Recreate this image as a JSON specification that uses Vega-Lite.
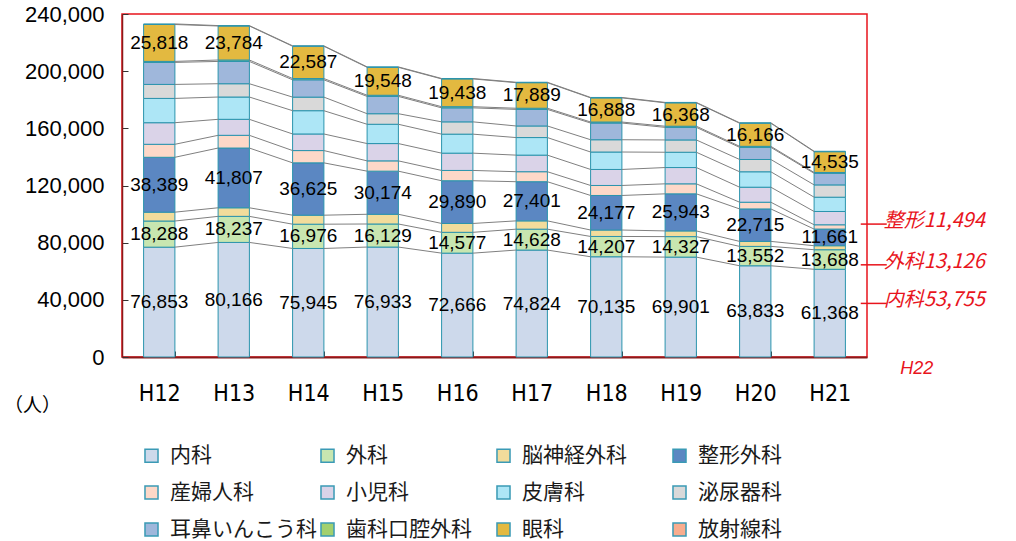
{
  "$schema": "https://vega.github.io/schema/vega-lite/v6.json",
  "autosize": {"type": "none"},
  "padding": {"left": 122, "top": 14, "right": 149, "bottom": 184},
  "width": 745,
  "height": 343,
  "background": "white",
  "config": {
    "view": {"stroke": "#e8141c", "strokeWidth": 1.5},
    "font": "Liberation Sans",
    "axisX": {
      "labelFont": "Liberation Sans Narrow, DejaVu Sans Condensed, Liberation Sans",
      "labelFontSize": 23,
      "labelColor": "#000000",
      "labelAngle": 0,
      "labelPadding": 31,
      "tickBand": "extent",
      "tickSize": -6,
      "tickColor": "#333333",
      "domainColor": "#8b1a1a",
      "domainWidth": 2,
      "grid": false
    },
    "axisY": {
      "labelFont": "Liberation Sans",
      "labelFontSize": 22,
      "labelColor": "#000000",
      "labelPadding": 24,
      "tickSize": -6,
      "tickColor": "#333333",
      "domainColor": "#8b1a1a",
      "domainWidth": 1.5,
      "grid": false
    }
  },
  "datasets": {
    "main": [
      {"year": "H12", "dept": "内科", "n": 76853},
      {"year": "H12", "dept": "外科", "n": 18288},
      {"year": "H12", "dept": "脳神経外科", "n": 6200},
      {"year": "H12", "dept": "整形外科", "n": 38389},
      {"year": "H12", "dept": "産婦人科", "n": 9100},
      {"year": "H12", "dept": "小児科", "n": 15100},
      {"year": "H12", "dept": "皮膚科", "n": 17000},
      {"year": "H12", "dept": "泌尿器科", "n": 9800},
      {"year": "H12", "dept": "耳鼻いんこう科", "n": 15400},
      {"year": "H12", "dept": "歯科口腔外科", "n": 700},
      {"year": "H12", "dept": "眼科", "n": 25818},
      {"year": "H12", "dept": "放射線科", "n": 400},
      {"year": "H13", "dept": "内科", "n": 80166},
      {"year": "H13", "dept": "外科", "n": 18237},
      {"year": "H13", "dept": "脳神経外科", "n": 6000},
      {"year": "H13", "dept": "整形外科", "n": 41807},
      {"year": "H13", "dept": "産婦人科", "n": 8900},
      {"year": "H13", "dept": "小児科", "n": 11200},
      {"year": "H13", "dept": "皮膚科", "n": 15600},
      {"year": "H13", "dept": "泌尿器科", "n": 9300},
      {"year": "H13", "dept": "耳鼻いんこう科", "n": 15600},
      {"year": "H13", "dept": "歯科口腔外科", "n": 1000},
      {"year": "H13", "dept": "眼科", "n": 23784},
      {"year": "H13", "dept": "放射線科", "n": 300},
      {"year": "H14", "dept": "内科", "n": 75945},
      {"year": "H14", "dept": "外科", "n": 16976},
      {"year": "H14", "dept": "脳神経外科", "n": 6300},
      {"year": "H14", "dept": "整形外科", "n": 36625},
      {"year": "H14", "dept": "産婦人科", "n": 8600},
      {"year": "H14", "dept": "小児科", "n": 11600},
      {"year": "H14", "dept": "皮膚科", "n": 16300},
      {"year": "H14", "dept": "泌尿器科", "n": 9500},
      {"year": "H14", "dept": "耳鼻いんこう科", "n": 12100},
      {"year": "H14", "dept": "歯科口腔外科", "n": 900},
      {"year": "H14", "dept": "眼科", "n": 22587},
      {"year": "H14", "dept": "放射線科", "n": 300},
      {"year": "H15", "dept": "内科", "n": 76933},
      {"year": "H15", "dept": "外科", "n": 16129},
      {"year": "H15", "dept": "脳神経外科", "n": 6800},
      {"year": "H15", "dept": "整形外科", "n": 30174},
      {"year": "H15", "dept": "産婦人科", "n": 7200},
      {"year": "H15", "dept": "小児科", "n": 12100},
      {"year": "H15", "dept": "皮膚科", "n": 13500},
      {"year": "H15", "dept": "泌尿器科", "n": 7400},
      {"year": "H15", "dept": "耳鼻いんこう科", "n": 12100},
      {"year": "H15", "dept": "歯科口腔外科", "n": 800},
      {"year": "H15", "dept": "眼科", "n": 19548},
      {"year": "H15", "dept": "放射線科", "n": 300},
      {"year": "H16", "dept": "内科", "n": 72666},
      {"year": "H16", "dept": "外科", "n": 14577},
      {"year": "H16", "dept": "脳神経外科", "n": 6200},
      {"year": "H16", "dept": "整形外科", "n": 29890},
      {"year": "H16", "dept": "産婦人科", "n": 7200},
      {"year": "H16", "dept": "小児科", "n": 12100},
      {"year": "H16", "dept": "皮膚科", "n": 13300},
      {"year": "H16", "dept": "泌尿器科", "n": 8600},
      {"year": "H16", "dept": "耳鼻いんこう科", "n": 9800},
      {"year": "H16", "dept": "歯科口腔外科", "n": 800},
      {"year": "H16", "dept": "眼科", "n": 19438},
      {"year": "H16", "dept": "放射線科", "n": 300},
      {"year": "H17", "dept": "内科", "n": 74824},
      {"year": "H17", "dept": "外科", "n": 14628},
      {"year": "H17", "dept": "脳神経外科", "n": 5800},
      {"year": "H17", "dept": "整形外科", "n": 27401},
      {"year": "H17", "dept": "産婦人科", "n": 7000},
      {"year": "H17", "dept": "小児科", "n": 11600},
      {"year": "H17", "dept": "皮膚科", "n": 12300},
      {"year": "H17", "dept": "泌尿器科", "n": 8100},
      {"year": "H17", "dept": "耳鼻いんこう科", "n": 11600},
      {"year": "H17", "dept": "歯科口腔外科", "n": 800},
      {"year": "H17", "dept": "眼科", "n": 17889},
      {"year": "H17", "dept": "放射線科", "n": 300},
      {"year": "H18", "dept": "内科", "n": 70135},
      {"year": "H18", "dept": "外科", "n": 14207},
      {"year": "H18", "dept": "脳神経外科", "n": 4500},
      {"year": "H18", "dept": "整形外科", "n": 24177},
      {"year": "H18", "dept": "産婦人科", "n": 7000},
      {"year": "H18", "dept": "小児科", "n": 11200},
      {"year": "H18", "dept": "皮膚科", "n": 12200},
      {"year": "H18", "dept": "泌尿器科", "n": 8600},
      {"year": "H18", "dept": "耳鼻いんこう科", "n": 11700},
      {"year": "H18", "dept": "歯科口腔外科", "n": 700},
      {"year": "H18", "dept": "眼科", "n": 16888},
      {"year": "H18", "dept": "放射線科", "n": 300},
      {"year": "H19", "dept": "内科", "n": 69901},
      {"year": "H19", "dept": "外科", "n": 14327},
      {"year": "H19", "dept": "脳神経外科", "n": 4000},
      {"year": "H19", "dept": "整形外科", "n": 25943},
      {"year": "H19", "dept": "産婦人科", "n": 7000},
      {"year": "H19", "dept": "小児科", "n": 11400},
      {"year": "H19", "dept": "皮膚科", "n": 10700},
      {"year": "H19", "dept": "泌尿器科", "n": 8600},
      {"year": "H19", "dept": "耳鼻いんこう科", "n": 8800},
      {"year": "H19", "dept": "歯科口腔外科", "n": 800},
      {"year": "H19", "dept": "眼科", "n": 16368},
      {"year": "H19", "dept": "放射線科", "n": 300},
      {"year": "H20", "dept": "内科", "n": 63833},
      {"year": "H20", "dept": "外科", "n": 13552},
      {"year": "H20", "dept": "脳神経外科", "n": 3500},
      {"year": "H20", "dept": "整形外科", "n": 22715},
      {"year": "H20", "dept": "産婦人科", "n": 4700},
      {"year": "H20", "dept": "小児科", "n": 10500},
      {"year": "H20", "dept": "皮膚科", "n": 10800},
      {"year": "H20", "dept": "泌尿器科", "n": 8600},
      {"year": "H20", "dept": "耳鼻いんこう科", "n": 8500},
      {"year": "H20", "dept": "歯科口腔外科", "n": 700},
      {"year": "H20", "dept": "眼科", "n": 16166},
      {"year": "H20", "dept": "放射線科", "n": 300},
      {"year": "H21", "dept": "内科", "n": 61368},
      {"year": "H21", "dept": "外科", "n": 13688},
      {"year": "H21", "dept": "脳神経外科", "n": 2800},
      {"year": "H21", "dept": "整形外科", "n": 11661},
      {"year": "H21", "dept": "産婦人科", "n": 3000},
      {"year": "H21", "dept": "小児科", "n": 9300},
      {"year": "H21", "dept": "皮膚科", "n": 10000},
      {"year": "H21", "dept": "泌尿器科", "n": 8600},
      {"year": "H21", "dept": "耳鼻いんこう科", "n": 8100},
      {"year": "H21", "dept": "歯科口腔外科", "n": 600},
      {"year": "H21", "dept": "眼科", "n": 14535},
      {"year": "H21", "dept": "放射線科", "n": 300}
    ],
    "depts": [
      {"dept": "内科", "rank": 1},
      {"dept": "外科", "rank": 2},
      {"dept": "脳神経外科", "rank": 3},
      {"dept": "整形外科", "rank": 4},
      {"dept": "産婦人科", "rank": 5},
      {"dept": "小児科", "rank": 6},
      {"dept": "皮膚科", "rank": 7},
      {"dept": "泌尿器科", "rank": 8},
      {"dept": "耳鼻いんこう科", "rank": 9},
      {"dept": "歯科口腔外科", "rank": 10},
      {"dept": "眼科", "rank": 11},
      {"dept": "放射線科", "rank": 12}
    ],
    "notes": [
      {"label": "整形11,494", "at": 93000},
      {"label": "外科13,126", "at": 64500},
      {"label": "内科53,755", "at": 37500}
    ]
  },
  "layer": [
    {
      "data": {"name": "main"},
      "transform": [
        {"lookup": "dept", "from": {"data": {"name": "depts"}, "key": "dept", "fields": ["rank"]}},
        {"stack": "n", "groupby": ["year"], "sort": [{"field": "rank", "order": "ascending"}], "as": ["v0", "v1"]}
      ],
      "mark": {"type": "bar", "stroke": "#2b94ad", "strokeWidth": 1},
      "encoding": {
        "x": {"field": "year", "type": "nominal", "title": null,
              "scale": {"paddingInner": 0.58, "paddingOuter": 0.29}},
        "y": {"field": "v0", "type": "quantitative", "title": "（人）",
              "scale": {"domain": [0, 240000], "nice": false},
              "axis": {"values": [0, 40000, 80000, 120000, 160000, 200000, 240000], "format": ",.0f",
                       "titleAngle": 0, "titleX": -90, "titleY": 391, "titleAlign": "center", "titleBaseline": "middle",
                       "titleFont": "Noto Sans CJK JP", "titleFontSize": 19, "titleFontWeight": "normal", "titleColor": "#000000"}},
        "y2": {"field": "v1"},
        "color": {
          "field": "dept", "type": "nominal",
          "scale": {
            "domain": ["内科", "外科", "脳神経外科", "整形外科", "産婦人科", "小児科", "皮膚科", "泌尿器科", "耳鼻いんこう科", "歯科口腔外科", "眼科", "放射線科"],
            "range": ["#cdd9eb", "#c8e6b0", "#f2dc9b", "#5b87c2", "#fdd8c8", "#dad3e8", "#ade6f6", "#d9d9d9", "#9fb7db", "#a2d06e", "#e3b940", "#f8ad8e"]
          },
          "legend": {
            "title": null, "orient": "none", "legendX": 19, "legendY": 431,
            "direction": "horizontal",
            "columns": 4, "gridAlign": "all", "columnPadding": 0, "rowPadding": 15,
            "symbolType": "square", "symbolSize": 170, "symbolStrokeColor": "#3a9ab5", "symbolStrokeWidth": 1.5,
            "symbolOffset": 0, "labelOffset": 8, "padding": 0,
            "labelFont": "Noto Sans CJK JP", "labelFontSize": 21, "labelColor": "#1a1a1a", "labelLimit": 300
          }
        }
      }
    },
    {
      "data": {"name": "main"},
      "transform": [
        {"lookup": "dept", "from": {"data": {"name": "depts"}, "key": "dept", "fields": ["rank"]}},
        {"stack": "n", "groupby": ["year"], "sort": [{"field": "rank", "order": "ascending"}], "as": ["v0", "v1"]},
        {"window": [{"op": "lead", "field": "v1", "as": "nv1"}, {"op": "lead", "field": "year", "as": "nyear"}], "groupby": ["dept"], "sort": [{"field": "year", "order": "ascending"}]},
        {"filter": "datum.nyear != null"}
      ],
      "mark": {"type": "rule", "color": "#808080", "strokeWidth": 1, "xOffset": 15.6, "x2Offset": -15.6},
      "encoding": {
        "x": {"field": "year", "type": "nominal", "title": null},
        "x2": {"field": "nyear"},
        "y": {"field": "v1", "type": "quantitative", "title": "（人）", "axis": {"format": ",.0f"}},
        "y2": {"field": "nv1"}
      }
    },
    {
      "data": {"name": "main"},
      "transform": [
        {"lookup": "dept", "from": {"data": {"name": "depts"}, "key": "dept", "fields": ["rank"]}},
        {"stack": "n", "groupby": ["year"], "sort": [{"field": "rank", "order": "ascending"}], "as": ["v0", "v1"]},
        {"filter": {"field": "dept", "oneOf": ["内科", "外科", "整形外科", "眼科"]}},
        {"calculate": "(datum.v0 + datum.v1) / 2", "as": "mid"}
      ],
      "mark": {"type": "text", "font": "Liberation Sans", "fontSize": 19, "color": "#000000", "baseline": "middle", "align": "center"},
      "encoding": {
        "x": {"field": "year", "type": "nominal", "title": null},
        "y": {"field": "mid", "type": "quantitative", "title": "（人）", "axis": {"format": ",.0f"}},
        "text": {"field": "n", "type": "quantitative", "format": ","}
      }
    },
    {
      "data": {"name": "notes"},
      "mark": {"type": "rule", "color": "#e8141c", "strokeWidth": 1.5, "xOffset": 31, "x2Offset": 57},
      "encoding": {
        "x": {"datum": "H21", "type": "nominal"},
        "x2": {"datum": "H21"},
        "y": {"field": "at", "type": "quantitative", "title": "（人）", "axis": {"format": ",.0f"}}
      }
    },
    {
      "data": {"name": "notes"},
      "mark": {"type": "text", "align": "left", "baseline": "middle", "dx": 54, "dy": -3, "color": "#e8141c", "fontStyle": "italic", "fontSize": 20, "font": "Liberation Sans Narrow, Noto Sans CJK JP"},
      "encoding": {
        "x": {"datum": "H21", "type": "nominal"},
        "y": {"field": "at", "type": "quantitative", "title": "（人）", "axis": {"format": ",.0f"}},
        "text": {"field": "label"}
      }
    },
    {
      "data": {"values": [{"label": "H22"}]},
      "mark": {"type": "text", "align": "center", "baseline": "middle", "dx": 87, "dy": 12, "color": "#e8141c", "fontStyle": "italic", "fontSize": 18, "font": "Liberation Sans Narrow, Liberation Sans"},
      "encoding": {
        "x": {"datum": "H21", "type": "nominal"},
        "y": {"datum": 0, "type": "quantitative", "title": "（人）", "axis": {"format": ",.0f"}},
        "text": {"field": "label"}
      }
    }
  ]
}
